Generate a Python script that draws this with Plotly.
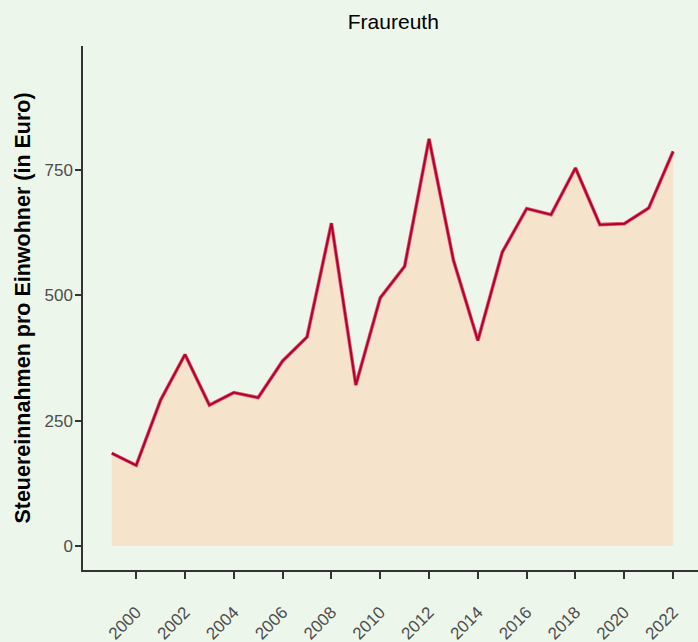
import plotly.graph_objects as go

years = list(range(1999, 2023))
steuer = [185, 161, 291, 382, 281, 306, 296, 369, 417, 644, 321, 495,
          558, 812, 570, 410, 586, 673, 661, 754, 641, 643, 674, 787]
x_ticks = list(range(2000, 2023, 2))
y_ticks = [0, 250, 500, 750]

BG = "#EDF6EB"
FILL = "#F5E3CB"
LINE_LIGHT = "#D9596F"
LINE_DARK = "#B3002D"

fig = go.Figure()
fig.add_trace(go.Scatter(x=years, y=steuer, mode="lines", fill="tozeroy",
                         fillcolor=FILL, line=dict(color=LINE_LIGHT, width=3.6),
                         hoverinfo="skip", showlegend=False))
fig.add_trace(go.Scatter(x=years, y=steuer, mode="lines",
                         line=dict(color=LINE_DARK, width=2.0),
                         showlegend=False))

font = "Liberation Sans, Arial, sans-serif"
fig.update_layout(
    width=698, height=642,
    paper_bgcolor=BG, plot_bgcolor=BG,
    margin=dict(l=83, r=0, t=46, b=72),
    title=dict(text="Fraureuth", x=0.5635, xanchor="center", y=0.966, yanchor="middle",
               font=dict(family=font, size=21, color="#000000")),
    font=dict(family=font),
    showlegend=False,
)
fig.update_xaxes(
    range=[1997.82, 2023.02], tickvals=x_ticks, ticktext=[str(t) for t in x_ticks],
    tickangle=-45, ticks="outside", ticklen=7, tickwidth=2, tickcolor="#333333",
    showline=True, linecolor="#333333", linewidth=1.5, showgrid=False, zeroline=False,
    tickfont=dict(family=font, size=17, color="#4D4D4D"), ticklabelstandoff=17,
    automargin=False,
)
fig.update_yaxes(
    range=[-47.9, 997.4], tickvals=y_ticks, ticktext=[str(t) for t in y_ticks],
    ticks="outside", ticklen=6, tickwidth=2, tickcolor="#333333",
    showline=True, linecolor="#333333", linewidth=1.5, showgrid=False, zeroline=False,
    tickfont=dict(family=font, size=17, color="#4D4D4D"), ticklabelstandoff=-1,
    automargin=False,
    title=dict(text="<b>Steuereinnahmen pro Einwohner (in Euro)</b>", standoff=8,
               font=dict(family=font, size=21.5, color="#000000")),
)
fig.write_html("out.html", config={"displayModeBar": False},
               post_script="document.body.style.margin='0';document.body.style.overflow='hidden';")
